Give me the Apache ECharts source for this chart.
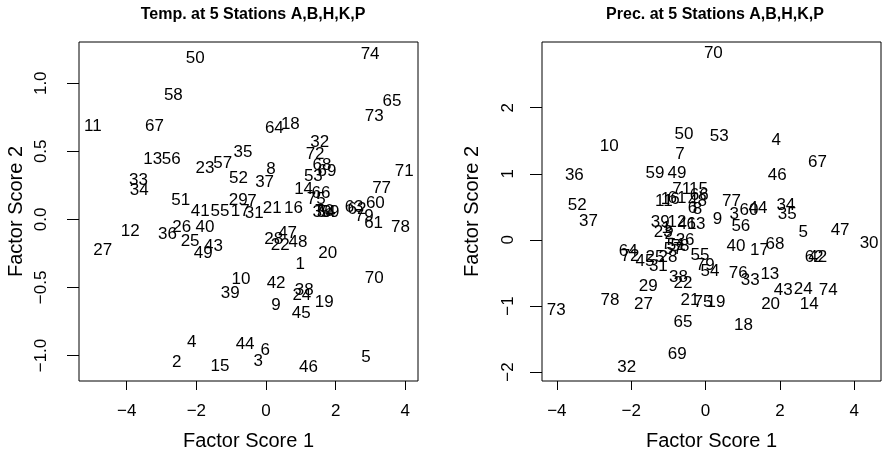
<!DOCTYPE html>
<html>
<head>
<meta charset="utf-8">
<script src="https://cdn.jsdelivr.net/npm/echarts@6/dist/echarts.min.js"></script>
<style>
  html, body { margin: 0; padding: 0; background: #fff; }
  #chart { width: 885px; height: 457px; }
</style>
</head>
<body>
<div id="chart"></div>
<script>
// Station/day labels plotted as text at their factor scores
const stationIds = ['1','2','3','4','5','6','7','8','9','10','11','12','13','14','15','16','17','18','19','20',
  '21','22','23','24','25','26','27','28','29','30','31','32','33','34','35','36','37','38','39','40',
  '41','42','43','44','45','46','47','48','49','50','51','52','53','54','55','56','57','58','59','60',
  '61','62','63','64','65','66','67','68','69','70','71','72','73','74','75','76','77','78','79'];

// Temperature: factor scores 1 and 2
const tempScore1 = [0.98,-2.56,-0.22,-2.13,2.87,-0.02,-0.40,0.14,0.29,-0.72,-4.97,-3.90,-3.25,1.08,-1.32,0.79,-0.74,0.70,1.67,1.77,
  0.18,0.41,-1.75,1.03,-2.18,-2.42,-4.69,0.22,-0.80,1.61,-0.34,1.54,-3.66,-3.64,-0.66,-2.83,-0.04,1.10,-1.03,-1.75,
  -1.89,0.29,-1.51,-0.60,1.01,1.22,0.62,0.92,-1.80,-2.03,-2.45,-0.79,1.36,1.73,-1.32,-2.72,-1.24,-2.66,1.84,3.14,
  3.09,2.61,2.53,0.24,3.62,1.58,-3.20,1.61,1.75,3.11,3.97,1.41,3.11,2.99,1.44,1.67,3.32,3.86,2.82];
const tempScore2 = [-0.33,-1.05,-1.04,-0.90,-1.01,-0.96,0.13,0.37,-0.63,-0.44,0.68,-0.09,0.44,0.22,-1.08,0.08,0.06,0.70,-0.61,-0.25,
  0.08,-0.19,0.375,-0.56,-0.16,-0.06,-0.23,-0.15,0.14,0.055,0.045,0.565,0.29,0.21,0.49,-0.11,0.27,-0.52,-0.54,-0.06,
  0.06,-0.47,-0.20,-0.92,-0.69,-1.09,-0.10,-0.17,-0.25,1.185,0.14,0.30,0.315,0.055,0.06,0.44,0.41,0.91,0.055,0.12,
  -0.03,0.075,0.09,0.67,0.87,0.19,0.68,0.40,0.35,-0.43,0.35,0.48,0.76,1.21,0.15,0.06,0.23,-0.06,0.02];

// Precipitation: factor scores 1 and 2
const precScore1 = [-1.06,-0.98,0.77,1.90,2.63,-0.35,-0.69,-0.22,0.32,-2.59,-1.12,-0.77,1.73,2.79,-0.19,-0.95,1.45,1.02,0.28,1.75,
  -0.42,-0.61,-1.14,2.63,-1.36,-0.55,-1.67,-1.01,-1.54,4.40,-1.27,-2.12,1.20,2.16,2.20,-3.53,-3.15,-0.73,-1.22,0.82,
  -0.50,3.02,2.09,1.41,-1.63,1.93,3.62,-0.22,-0.77,-0.58,-0.79,-3.45,0.37,0.12,-0.15,0.95,-0.87,-0.69,-1.36,1.17,
  -0.77,2.92,-0.26,-2.08,-0.61,-0.17,3.01,1.87,-0.76,0.21,-0.64,-2.03,-4.02,3.30,-0.07,0.88,0.70,-2.57,-0.01];
const precScore2 = [0.18,0.09,0.39,1.50,0.11,0.48,1.29,0.47,0.31,1.42,0.59,0.27,-0.52,-0.97,0.76,0.62,-0.16,-1.30,-0.94,-0.97,
  -0.92,-0.65,0.12,-0.75,-0.26,0.0,-0.97,-0.27,-0.71,-0.05,-0.40,-1.93,-0.61,0.53,0.38,0.97,0.28,-0.57,0.27,-0.09,
  0.24,-0.26,-0.77,0.48,-0.33,0.98,0.14,0.58,1.00,1.60,-0.08,0.52,1.57,-0.48,-0.24,0.21,-0.15,-0.09,1.00,0.45,
  0.63,-0.26,0.24,-0.18,-1.25,0.67,1.17,-0.06,-1.73,2.82,0.77,-0.25,-1.07,-0.76,-0.94,-0.50,0.58,-0.91,-0.39];

const scoreTicks1 = [-4, -2, 0, 2, 4];
const tempTicks2 = [-1, -0.5, 0, 0.5, 1];
const precTicks2 = [-2, -1, 0, 1, 2];

const FONT = '"Liberation Sans", Arial, Helvetica, sans-serif';
const INK = '#000';

function points(xs, ys) {
  return stationIds.map((id, i) => ({ name: id, value: [xs[i], ys[i]] }));
}
const minus = s => String(s).replace('-', '\u2212');

function xAxisFor(grid, min, max) {
  return {
    type: 'value', gridIndex: grid, min: min, max: max,
    name: 'Factor Score 1', nameLocation: 'middle', nameGap: 50,
    nameTextStyle: { fontFamily: FONT, fontSize: 20, color: INK },
    axisLine: { show: false, onZero: false },
    splitLine: { show: false },
    axisTick: { show: true, inside: false, length: 9, customValues: scoreTicks1, lineStyle: { color: '#000' } },
    axisLabel: { show: true, customValues: scoreTicks1, margin: 22, fontFamily: FONT, fontSize: 17, color: INK,
      formatter: v => minus(v) }
  };
}
function yAxisFor(grid, min, max, ticks, fmt, margin, nameGap) {
  return {
    type: 'value', gridIndex: grid, min: min, max: max,
    name: 'Factor Score 2', nameLocation: 'middle', nameGap: nameGap,
    nameTextStyle: { fontFamily: FONT, fontSize: 20, color: INK },
    axisLine: { show: false, onZero: false },
    splitLine: { show: false },
    axisTick: { show: true, inside: false, length: 12, customValues: ticks, lineStyle: { color: '#000' } },
    axisLabel: { show: true, customValues: ticks, rotate: 90, margin: margin, fontFamily: FONT, fontSize: 17, color: INK,
      formatter: fmt }
  };
}

function labelSeries(xi, yi, data) {
  return {
    type: 'scatter', xAxisIndex: xi, yAxisIndex: yi,
    symbolSize: 1, itemStyle: { color: 'rgba(0,0,0,0)' },
    data: data,
    label: { show: true, position: 'inside', formatter: p => p.name,
      fontFamily: FONT, fontSize: 17, color: INK, opacity: 1, textBorderWidth: 0, textBorderColor: 'transparent' },
    labelLayout: { hideOverlap: false },
    emphasis: { disabled: true }
  };
}

const chart = echarts.init(document.getElementById('chart'), null, { renderer: 'canvas' });
chart.setOption({
  animation: false,
  backgroundColor: '#fff',
  title: [
    { text: 'Temp. at 5 Stations A,B,H,K,P', left: 248, top: 2, textAlign: 'center',
      textStyle: { fontFamily: FONT, fontSize: 16, fontWeight: 'bold', color: INK } },
    { text: 'Prec. at 5 Stations A,B,H,K,P', left: 710, top: 2, textAlign: 'center',
      textStyle: { fontFamily: FONT, fontSize: 16, fontWeight: 'bold', color: INK } }
  ],
  grid: [
    { left: 79, top: 42, width: 339, height: 339, containLabel: false, outerBoundsMode: 'none',
      show: true, borderColor: '#000', borderWidth: 1, backgroundColor: 'transparent' },
    { left: 542, top: 42, width: 339, height: 339, containLabel: false, outerBoundsMode: 'none',
      show: true, borderColor: '#000', borderWidth: 1, backgroundColor: 'transparent' }
  ],
  xAxis: [
    xAxisFor(0, -5.37, 4.365),
    xAxisFor(1, -4.40, 4.72)
  ],
  yAxis: [
    yAxisFor(0, -1.1875, 1.303, tempTicks2, v => minus(Number(v).toFixed(1)), 29, 53),
    yAxisFor(1, -2.136, 2.995, precTicks2, v => minus(v), 25, 60)
  ],
  series: [
    labelSeries(0, 0, points(tempScore1, tempScore2)),
    labelSeries(1, 1, points(precScore1, precScore2))
  ]
});
</script>
</body>
</html>
